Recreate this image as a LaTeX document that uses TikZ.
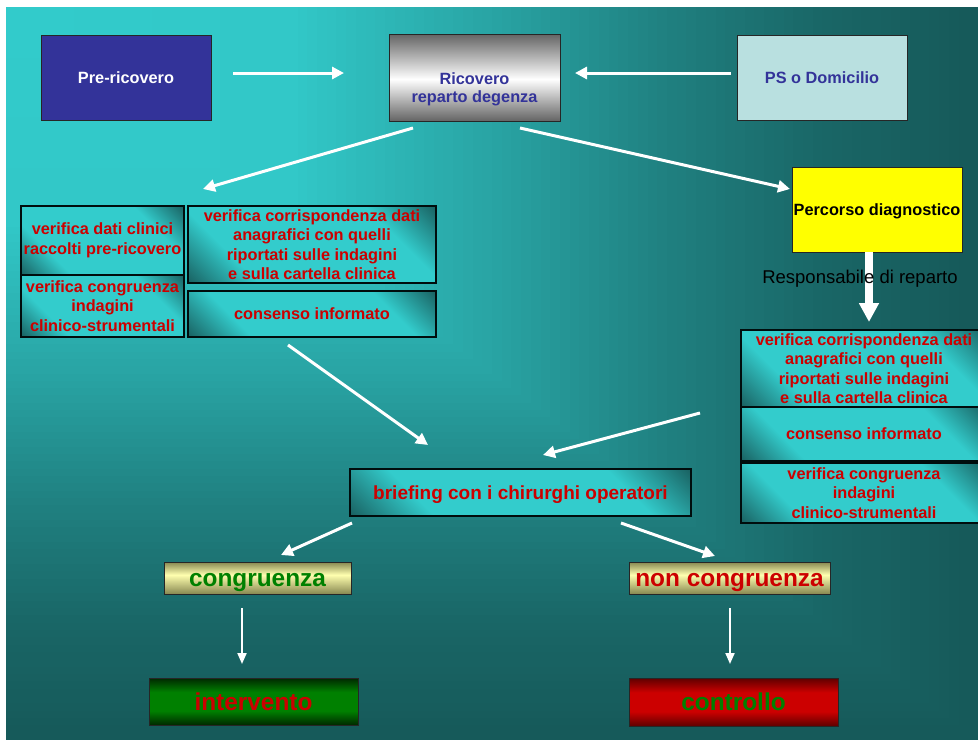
\documentclass[tikz,border=0pt]{standalone}
\usepackage{fontspec}
\setmainfont{Liberation Sans}
\usetikzlibrary{arrows.meta}

\definecolor{txtred}{RGB}{204,0,0}
\definecolor{txtblue}{RGB}{51,51,153}
\definecolor{txtgreen}{RGB}{0,128,0}
\definecolor{cyanbox}{RGB}{51,204,204}
\definecolor{darkbox}{RGB}{26,100,100}
\definecolor{ricgray}{RGB}{100,100,100}
\definecolor{olive1}{RGB}{135,135,80}
\definecolor{paley}{RGB}{255,255,175}
\definecolor{grn1}{RGB}{0,40,0}
\definecolor{grn2}{RGB}{0,128,0}
\definecolor{red1}{RGB}{95,0,0}
\definecolor{red2}{RGB}{204,0,0}
\definecolor{psblue}{RGB}{185,224,224}
\definecolor{preblue}{RGB}{51,51,153}
\definecolor{yelbox}{RGB}{255,255,0}

\pgfdeclareverticalshading{ricsh}{100bp}{color(0bp)=(ricgray); color(25bp)=(ricgray); color(49bp)=(white); color(75bp)=(ricgray); color(100bp)=(ricgray)}
\pgfdeclareverticalshading{yelsh}{100bp}{color(0bp)=(olive1); color(25bp)=(olive1); color(55bp)=(paley); color(75bp)=(olive1); color(100bp)=(olive1)}
\pgfdeclareverticalshading{grnsh}{100bp}{color(0bp)=(grn1); color(25bp)=(grn1); color(40bp)=(grn2); color(60bp)=(grn2); color(75bp)=(grn1); color(100bp)=(grn1)}
\pgfdeclareverticalshading{redsh}{100bp}{color(0bp)=(red1); color(25bp)=(red1); color(40bp)=(red2); color(60bp)=(red2); color(75bp)=(red1); color(100bp)=(red1)}
\pgfdeclareverticalshading{cyansh}{100bp}{color(0bp)=(darkbox); color(15bp)=(darkbox); color(30bp)=(cyanbox); color(70bp)=(cyanbox); color(85bp)=(darkbox); color(100bp)=(darkbox)}

\tikzset{
  boxbase/.style={draw=black!85, line width=1pt, inner sep=0pt, align=center},
  fsixteen/.style={font=\bfseries\fontsize{16.3}{19.5}\selectfont},
  onelinesixteen/.style={text height=11.7pt, text depth=0pt},
  fbig/.style={font=\bfseries\fontsize{24.4}{28}\selectfont, text height=17.6pt, text depth=0pt},
  cbox/.style={boxbase, draw=black!90!teal, line width=1.3pt, shade, shading=cyansh, shading angle=-45, text=txtred, fsixteen},
  wa/.style={draw=white, line width=3pt, -{Triangle[length=12pt,width=12pt]}},
  wathin/.style={draw=white, line width=2pt, -{Triangle[length=11pt,width=9pt]}},
}

\begin{document}
\begin{tikzpicture}[x=1pt,y=-1pt]
\useasboundingbox (0,0) rectangle (978,740);
\fill[white] (0,0) rectangle (978,740);
% background gradient from the top-left corner
\foreach \i in {100,99,...,1}{
  \pgfmathsetmacro\t{\i/100}
  \pgfmathsetmacro\g{\t<0.3 ? 204-13.33*\t : (\t<0.5 ? 200-175*(\t-0.3) : (\t<0.7 ? 165-195*(\t-0.5) : (\t<0.85 ? 126-160*(\t-0.7) : 102-80*(\t-0.85))))}
  \pgfmathtruncatemacro\gi{\g}
  \pgfmathtruncatemacro\ri{\g/4}
  \definecolor{bgc}{RGB}{\ri,\gi,\gi}
  \fill[bgc] (6,7) rectangle ({6+972*\t},{7+733*\t});
}

% top row
\node[boxbase, fill=preblue, text=white, fsixteen, onelinesixteen, minimum width=170pt, minimum height=85pt] (pre) at (126,77.5) {Pre-ricovero};
\node[boxbase, shade, shading=ricsh, minimum width=171pt, minimum height=87pt] (ric) at (474.5,77.5) {};
\node[text=txtblue, font=\bfseries\fontsize{16.3}{18}\selectfont, align=center, inner sep=0pt] (ricT) at (474.5,89) {Ricovero\\reparto degenza};
\node[boxbase, fill=psblue, text=txtblue, fsixteen, onelinesixteen, minimum width=170pt, minimum height=85pt] (ps) at (822,77.5) {PS o Domicilio};

% left cluster
\node[cbox, minimum width=163pt, minimum height=69pt] (A) at (102.5,240.5) {verifica dati clinici\\raccolti pre-ricovero};
\node[cbox, minimum width=163pt, minimum height=62pt] (B) at (102.5,306) {verifica congruenza\\indagini\\clinico-strumentali};
\node[cbox, minimum width=248pt, minimum height=77pt] (C) at (312,244.5) {verifica corrispondenza dati\\anagrafici con quelli\\riportati sulle indagini\\e sulla cartella clinica};
\node[cbox, onelinesixteen, minimum width=248pt, minimum height=46pt] (D) at (312,314) {consenso informato};

% right cluster
\node[boxbase, fill=yelbox, text=black, fsixteen, onelinesixteen, minimum width=170pt, minimum height=85pt] (perc) at (877,209.5) {Percorso diagnostico};
\coordinate (bigs) at (869,252); \coordinate (bige) at (869,322);
\draw[draw=white, line width=8pt, -{Triangle[length=19pt,width=19pt]}] (bigs) -- (bige);
\node[font=\fontsize{18.5}{20}\selectfont, text=black, inner sep=0pt, text height=13.3pt, text depth=0pt] (resp) at (860,277) {Responsabile di reparto};
\node[cbox, minimum width=246pt, minimum height=77pt] (R1) at (864,368.5) {verifica corrispondenza dati\\anagrafici con quelli\\riportati sulle indagini\\e sulla cartella clinica};
\node[cbox, onelinesixteen, minimum width=246pt, minimum height=54pt] (R2) at (864,434) {consenso informato};
\node[cbox, minimum width=246pt, minimum height=60pt] (R3) at (864,493) {verifica congruenza\\indagini\\clinico-strumentali};

% briefing
\node[cbox, font=\bfseries\fontsize{19}{22}\selectfont, text height=13.7pt, text depth=0pt, minimum width=341pt, minimum height=47pt] (brief) at (520.5,492.5) {briefing con i chirurghi operatori};

% bottom
\node[boxbase, shade, shading=yelsh, text=txtgreen, fbig, minimum width=187pt, minimum height=32pt] (cong) at (257.5,578) {congruenza};
\node[boxbase, shade, shading=yelsh, text=txtred, fbig, minimum width=201pt, minimum height=32pt] (ncong) at (729.5,578) {non congruenza};
\node[boxbase, shade, shading=grnsh, text=txtred, fbig, minimum width=209pt, minimum height=47pt] (interv) at (253.5,701.5) {intervento};
\node[boxbase, shade, shading=redsh, text=txtgreen, fbig, minimum width=209pt, minimum height=48pt] (contr) at (733.5,702) {controllo};

% arrow end points
\coordinate (a1s) at (233,73);  \coordinate (a1e) at (344,73);
\coordinate (a2s) at (731,73);  \coordinate (a2e) at (575,73);
\coordinate (a3s) at (413,128); \coordinate (a3e) at (203,189);
\coordinate (a4s) at (520,128); \coordinate (a4e) at (790,189);
\coordinate (a5s) at (288,345); \coordinate (a5e) at (428,445);
\coordinate (a6s) at (700,413); \coordinate (a6e) at (543,455);
\coordinate (a7s) at (352,523); \coordinate (a7e) at (281,555);
\coordinate (a8s) at (621,523); \coordinate (a8e) at (715,556);
\coordinate (a9s) at (242,608); \coordinate (a9e) at (242,664);
\coordinate (a10s) at (730,608); \coordinate (a10e) at (730,664);

\draw[wa] (a1s) -- (a1e);
\draw[wa] (a2s) -- (a2e);
\draw[wa] (a3s) -- (a3e);
\draw[wa] (a4s) -- (a4e);
\draw[wa] (a5s) -- (a5e);
\draw[wa] (a6s) -- (a6e);
\draw[wa] (a7s) -- (a7e);
\draw[wa] (a8s) -- (a8e);
\draw[wathin] (a9s) -- (a9e);
\draw[wathin] (a10s) -- (a10e);
\end{tikzpicture}
\end{document}
